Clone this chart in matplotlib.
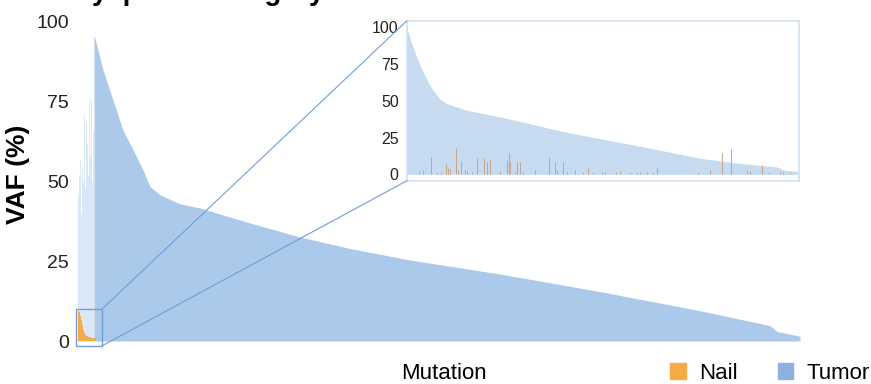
import matplotlib
matplotlib.use("Agg")
import matplotlib.pyplot as plt
from matplotlib.patches import Rectangle, Patch, ConnectionPatch

plt.rcParams['font.family'] = ['Liberation Sans', 'DejaVu Sans']

# colours
tumor_col = "#abc9eb"
tumor_faint = "#d3e3f5"
inset_col = "#c6daf0"
nail_col = "#f4ac48"
nail_inset_col = "#c6a584"
box_col = "#6f9fd6"

# main panel: mutations with nail VAF (left group), tumor VAF of that group
left_idx = [1, 2, 3, 4, 5, 6, 7, 8, 9, 10, 11, 12, 13, 14, 15, 16]
left_tumor = [46, 52, 57, 40, 55, 50, 71, 48, 69, 62, 52, 76, 58, 76, 50, 66]
nail_idx = [1, 2, 3, 4, 5, 6, 7, 8, 9, 10, 11, 12, 13, 14, 15, 16, 17, 18]
nail_vaf = [9.5, 9.0, 8.0, 6.5, 5.0, 3.6, 2.6, 2.0, 1.7, 1.5, 1.4, 1.3,
            1.2, 1.1, 1.0, 1.0, 0.9, 0.8]

# main panel: remaining mutations sorted by tumor VAF
tumor_idx = [17, 26, 36, 46, 56, 66, 73, 83, 103, 123, 173, 223, 273, 333,
             423, 523, 623, 683, 693, 700, 723]
tumor_vaf = [96, 85, 75.5, 66, 60, 53.6, 48.4, 45.8, 43, 41.7, 37, 32.6, 29,
             25.4, 21, 15.5, 9.5, 5.5, 4.8, 3, 1.5]

# inset panel
inset_idx = [0, 5, 13, 20, 26, 33, 40, 46, 60, 93, 160, 226, 293, 326, 360,
             370, 376, 391]
inset_vaf = [99, 88, 74, 64, 57, 51, 48, 46.5, 43.5, 39, 28.5, 20, 11, 8,
             5.6, 5, 3, 2]
inset_nail_idx = [12, 16, 24, 30, 34, 39, 41, 43, 49, 51, 54, 58, 60, 65, 70,
                  77, 80, 83, 93, 100, 102, 103, 108, 110, 113, 116, 128, 142,
                  148, 150, 156, 160, 168, 176, 181, 186, 195, 198, 209, 213,
                  223, 230, 233, 240, 246, 250, 291, 303, 315, 324, 340, 343,
                  355, 362, 373, 376, 383]
inset_nail_vaf = [2.3, 2.7, 12.0, 1.8, 1.8, 7.0, 4.1, 3.6, 18.1, 2.9, 9.0, 2.9,
                  2.3, 1.8, 10.9, 10.9, 8.6, 9.5, 2.3, 9.5, 14.7, 8.6, 1.8, 8.6,
                  8.6, 1.4, 2.9, 11.8, 8.6, 2.9, 8.6, 1.8, 2.7, 1.8, 4.5, 1.8,
                  1.4, 1.4, 1.8, 2.3, 1.8, 1.8, 1.4, 1.8, 1.4, 4.1, 1.8, 2.7,
                  14.3, 17.2, 2.3, 2.3, 6.3, 1.4, 1.8, 1.8, 1.4]

W, H = 871, 384
fig = plt.figure(figsize=(W / 100, H / 100), dpi=100)

# main axes
ax = fig.add_axes([77 / W, (H - 350.6) / H, 723 / W, 335 / H])
ax.vlines(left_idx, 0, left_tumor, color=tumor_faint, linewidth=0.6)
ax.fill_between(tumor_idx, tumor_vaf, 0, color=tumor_col, linewidth=0)
ax.bar(nail_idx, nail_vaf, width=1.0, color=nail_col, linewidth=0, zorder=3)
ax.set_xlim(0, 723)
ax.set_ylim(-3, 102)
ax.set_yticks([0, 25, 50, 75, 100])
ax.set_xticks([])
ax.tick_params(axis='y', length=0, pad=6, labelsize=14, labelcolor="#222222")
for s in ax.spines.values():
    s.set_visible(False)

# zoom box
zbox = Rectangle((-1, -1.5), 26, 11.5, fill=False, edgecolor=box_col,
                 linewidth=1.0, clip_on=False, zorder=4)
ax.add_patch(zbox)

# inset axes
axi = fig.add_axes([407 / W, (H - 180.7) / H, 392 / W, 160 / H])
axi.fill_between(inset_idx, inset_vaf, 0, color=inset_col, linewidth=0)
axi.vlines(inset_nail_idx, 0, inset_nail_vaf, color=nail_inset_col,
           linewidth=0.7, zorder=3)
axi.set_xlim(0, 392)
axi.set_ylim(-4.3, 104.3)
axi.set_yticks([0, 25, 50, 75, 100])
axi.set_xticks([])
axi.tick_params(axis='y', length=0, pad=6, labelsize=11.5, labelcolor="#222222")
for s in axi.spines.values():
    s.set_color("#cfe0f2")
    s.set_linewidth(1.2)

# connector lines from the zoom box to the inset
for ybox, yin in [(10, 1), (-1.5, 0)]:
    con = ConnectionPatch(xyA=(25, ybox), coordsA=ax.transData,
                          xyB=(0, yin), coordsB=axi.transAxes,
                          color=box_col, linewidth=0.8)
    fig.add_artist(con)

# labels
fig.text(18 / W, 1 - 174 / H, "VAF (%)", rotation=90, ha='center',
         va='center', fontsize=19, fontweight='bold')
fig.text(444 / W, 5 / H, "Mutation", ha='center', va='baseline', fontsize=16)
fig.text(8 / W, 1 + 0.5 / H, "B", ha='left', va='baseline', fontsize=20,
         fontweight='bold')
fig.text(72 / W, 1 + 0.5 / H, "Dysplasia category", ha='left', va='baseline',
         fontsize=20, fontweight='bold')

handles = [Patch(color=nail_col, label="Nail"), Patch(color="#8fb0e0", label="Tumor")]
fig.legend(handles=handles, loc='lower right', bbox_to_anchor=(1.0215, -0.052),
           ncol=2, frameon=False, fontsize=16, handlelength=0.7,
           handleheight=0.7, handletextpad=0.6, columnspacing=1.8)

fig.savefig("out.png", dpi=100)
